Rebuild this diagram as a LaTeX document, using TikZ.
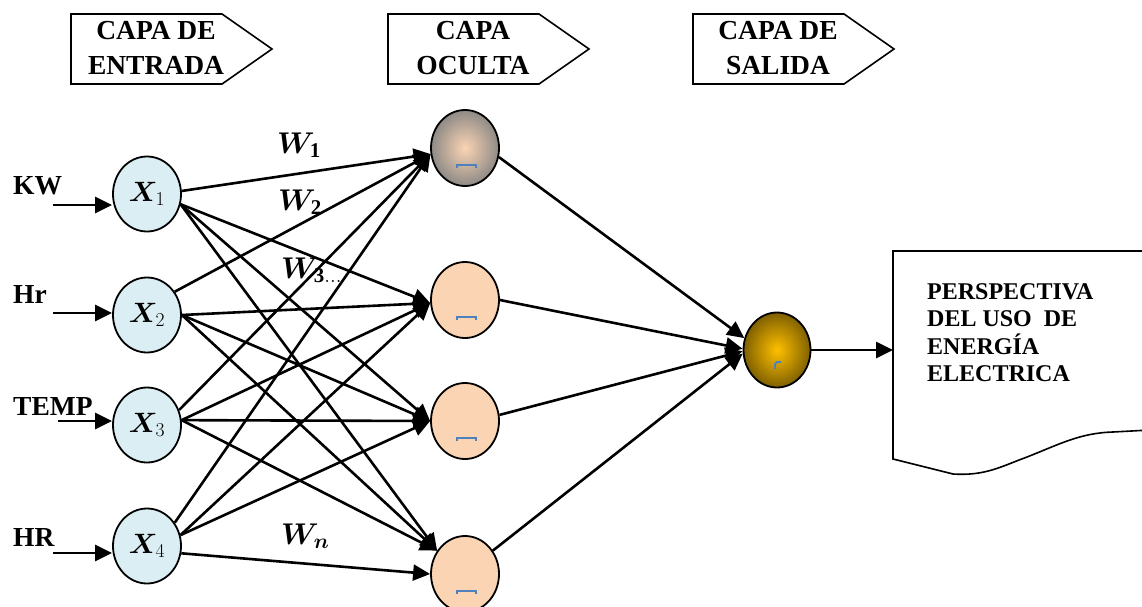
\RequirePackage{fix-cm}
\documentclass[tikz,border=0pt]{standalone}
\usepackage{bm}
\usepackage{fontspec}
\setmainfont{Liberation Serif}
\usetikzlibrary{arrows.meta,shapes.geometric}
\definecolor{finput}{HTML}{DAEEF3}
\definecolor{fpeach}{HTML}{FBD4B4}
\definecolor{fgrey}{HTML}{8E8A86}
\definecolor{fgold}{HTML}{FFC000}
\definecolor{fdark}{HTML}{7F6000}
\definecolor{fmark}{HTML}{4F81BD}
\tikzset{
  inlayer/.style  = {draw, line width=1.8pt, ellipse, fill=finput, inner sep=0pt,
                     minimum width=68pt, minimum height=75pt, font=\fontsize{28}{30}\selectfont},
  hidlayer/.style = {draw, line width=1.8pt, ellipse, fill=fpeach, inner sep=0pt,
                     minimum width=68pt, minimum height=76pt},
  outlayer/.style = {draw, line width=1.8pt, ellipse, shade, shading=radial, inner color=fgold,
                     outer color=fdark, inner sep=0pt, minimum width=67pt, minimum height=75pt},
  tagbox/.style   = {draw, line width=1.6pt, fill=white},
  tagtext/.style  = {align=center, inner sep=0pt, font=\bfseries\fontsize{27.5}{34.5}\selectfont},
  inlabel/.style  = {anchor=base west, inner sep=0pt, font=\bfseries\fontsize{27.5}{30}\selectfont},
  wlabel/.style   = {anchor=base west, inner sep=0pt, font=\fontsize{30}{32}\selectfont},
  doctext/.style  = {anchor=north west, align=left, inner sep=0pt,
                     font=\bfseries\fontsize{24}{27.5}\selectfont},
  sig/.style      = {-{Triangle[length=17pt,width=16pt]}, line width=2.6pt},
  glyphmark/.style= {fmark, line width=1.8pt},
}

\begin{document}
\begin{tikzpicture}[x=1pt,y=-1pt]
\useasboundingbox (0,0) rectangle (1142,607);
% layer tags on top
\foreach \bx/\tname/\ttext in {71/tagin/{CAPA DE\\ENTRADA},388/taghid/{CAPA\\OCULTA},693/tagout/{CAPA DE\\SALIDA}}{%
  \draw[tagbox] (\bx,14) -- ++(151,0) -- ++(50,35) -- ++(-50,35) -- ++(-151,0) -- cycle;
  \node[tagtext] (\tname) at (\bx+85,48) {\ttext};}
% neurons
\node[inlayer] (x1) at (147,194) {$\bm{X}_1$};
\node[inlayer] (x2) at (147,315) {$\bm{X}_2$};
\node[inlayer] (x3) at (147,425) {$\bm{X}_3$};
\node[inlayer] (x4) at (147,546) {$\bm{X}_4$};
\node[hidlayer,shade,shading=radial,inner color=fpeach,outer color=fgrey] (h1) at (465,148) {};
\node[hidlayer] (h2) at (465,300) {};
\node[hidlayer] (h3) at (465,421) {};
\node[hidlayer] (h4) at (465,574) {};
\node[outlayer] (o) at (777,350) {};
% small blue marks inside the neurons
\foreach \h in {h1,h2,h3,h4}
  \draw[glyphmark] ([shift={(-8,20)}]\h.center) -- ++(0,-3) -- ++(19,0) -- ++(0,3);
\draw[glyphmark] ([shift={(-2,19)}]o.center) -- ++(0,-5) -- ++(2,-2) -- ++(4,0);
% inputs
\node[inlabel] (kw) at (13,194) {KW};
\node[inlabel] (hrl) at (13,303) {Hr};
\node[inlabel] (temp) at (13,415) {TEMP};
\node[inlabel] (hrh) at (13,546) {HR};
\coordinate (kwin) at (53,205);
\coordinate (hrlin) at (53,313);
\coordinate (tempin) at (58,421);
\coordinate (hrhin) at (53,553);
\foreach \c/\x in {kwin/x1,hrlin/x2,tempin/x3,hrhin/x4}
  \draw[sig] (\c) -- (\c -| \x.west);
% weights
\node[wlabel] (w1) at (277,153) {$\bm{W}_{\mathbf{1}}$};
\node[wlabel] (w2) at (278,210) {$\bm{W}_{\mathbf{2}}$};
\node[wlabel] (w3) at (281,278) {$\bm{W}_{\mathbf{3}\ldots}$};
\node[wlabel] (wn) at (281,544) {$\bm{W}_{\bm{n}}$};
% input -> hidden
\foreach \i/\j/\a/\b in {x1/h1/5/190,x1/h2/-17/185,x1/h3/-17/180,x1/h4/-17/140,
                         x2/h1/40/190,x2/h2/0/185,x2/h3/0/180,x2/h4/0/140,
                         x3/h1/25/190,x3/h2/8/185,x3/h3/8/180,x3/h4/8/140,
                         x4/h1/40/190,x4/h2/18/185,x4/h3/18/180,x4/h4/-12/180}
  \draw[sig] (\i.\a) -- (\j.\b);
% hidden -> output
\foreach \j/\a/\b in {h1/-15/160,h2/0/178,h3/10/182,h4/40/186}
  \draw[sig] (\j.\a) -- (o.\b);
% result sheet
\draw[tagbox] (1150,251) -- (893,251) -- (893,459) -- (953,474)
  .. controls (985,476) and (1000,467) .. (1027,457)
  .. controls (1060,444) and (1080,433) .. (1113,432) -- (1150,430);
\node[doctext] (doc) at (927,283) {PERSPECTIVA\\DEL USO \ DE\\ENERGÍA\\ELECTRICA};
\coordinate (docin) at (893,350);
\draw[sig] (o) -- (docin);
\end{tikzpicture}
\end{document}
